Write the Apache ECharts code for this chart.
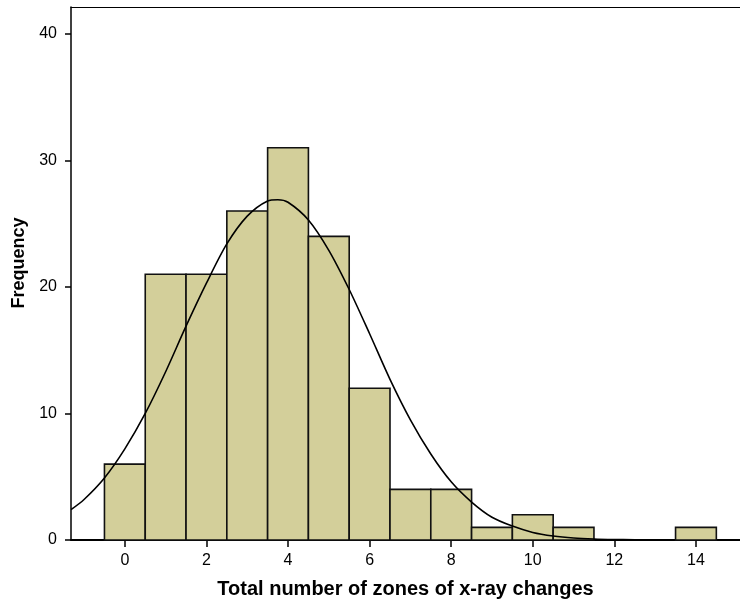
<!DOCTYPE html>
<html>
<head>
<meta charset="utf-8">
<script src="https://cdn.jsdelivr.net/npm/echarts@6/dist/echarts.min.js"></script>
<style>
  html, body { margin: 0; padding: 0; background: #fff; }
</style>
</head>
<body>
<!-- histogram with normal curve -->
<div id="main" style="width:740px;height:611px;"></div>
<script>
    // bins (zone counts) and their frequencies
    var bins = [0, 1, 2, 3, 4, 5, 6, 7, 8, 9, 10, 11, 12, 13, 14];
    var freq = [6, 21, 21, 26, 31, 24, 12, 4, 4, 1, 2, 1, 0, 0, 1];

    // normal curve
    var curveX = [-1.32, -1, -0.5, 0, 0.5, 1, 1.5, 2, 2.5, 3, 3.5, 3.75, 4, 4.5, 5, 5.5, 6, 6.5, 7, 7.5, 8, 8.5, 9, 9.5, 10, 10.5, 11, 11.5, 12, 12.5];
    var curveY = [2.4, 3.2, 4.9, 7.2, 10.0, 13.3, 16.9, 20.3, 23.4, 25.6, 26.8, 26.9, 26.7, 25.3, 22.9, 19.8, 16.3, 12.7, 9.5, 6.8, 4.6, 3.0, 1.8, 1.1, 0.6, 0.32, 0.16, 0.08, 0.04, 0.02];

    var xTicks = [0, 2, 4, 6, 8, 10, 12, 14];
    var yTicks = [0, 10, 20, 30, 40];

    var barData = [];
    for (var i = 0; i < bins.length; i++) {
        barData.push([bins[i], freq[i]]);
    }
    var lineData = [];
    for (var j = 0; j < curveX.length; j++) {
        lineData.push([curveX[j], curveY[j]]);
    }

    var font = '"Liberation Sans", Arial, sans-serif';
    var xMin = -1.32, xMax = 15.08;
    var myChart = echarts.init(document.getElementById('main'));

    myChart.setOption({
        animation: false,
        grid: {
            left: 71,
            top: 7,
            right: 0,
            bottom: 71
        },
        xAxis: [
            {
                type: 'value',
                min: xMin,
                max: xMax,
                name: 'Total number of zones of x-ray changes',
                nameLocation: 'middle',
                nameGap: 39,
                nameTextStyle: {
                    fontFamily: font,
                    fontWeight: 'bold',
                    fontSize: 20,
                    color: '#000'
                },
                axisLine: { show: true, onZero: false, lineStyle: { color: '#000', width: 2 } },
                axisTick: { show: true, length: 7, customValues: xTicks, lineStyle: { color: '#000', width: 1.5 } },
                axisLabel: { customValues: xTicks, margin: 13, fontFamily: font, fontSize: 16, color: '#000' },
                splitLine: { show: false }
            },
            {
                // top frame line only
                type: 'value',
                position: 'top',
                min: xMin,
                max: xMax,
                axisLine: { show: true, onZero: false, lineStyle: { color: '#000', width: 1.2 } },
                axisTick: { show: false },
                axisLabel: { show: false },
                splitLine: { show: false }
            }
        ],
        yAxis: {
            type: 'value',
            min: 0,
            max: 42.13,
            axisLine: { show: true, onZero: false, lineStyle: { color: '#000', width: 1.5 } },
            axisTick: { show: true, length: 6, customValues: yTicks, lineStyle: { color: '#000', width: 1.5 } },
            axisLabel: { customValues: yTicks, margin: 14, fontFamily: font, fontSize: 16, color: '#000' },
            splitLine: { show: false }
        },
        graphic: [
            {
                type: 'text',
                x: 19,
                y: 263,
                rotation: Math.PI / 2,
                style: {
                    text: 'Frequency',
                    fontFamily: font,
                    fontWeight: 'bold',
                    fontSize: 18,
                    fill: '#000',
                    align: 'center',
                    verticalAlign: 'middle'
                }
            }
        ],
        series: [
            {
                type: 'custom',
                data: barData,
                z: 2,
                renderItem: function (params, api) {
                    var x = api.value(0);
                    var y = api.value(1);
                    if (!y) {
                        return null;
                    }
                    var p0 = api.coord([x - 0.5, y]);
                    var p1 = api.coord([x + 0.5, 0]);
                    return {
                        type: 'rect',
                        shape: { x: p0[0], y: p0[1], width: p1[0] - p0[0], height: p1[1] - p0[1] },
                        style: { fill: '#d3cf9a', stroke: '#111', lineWidth: 1.6 }
                    };
                }
            },
            {
                type: 'line',
                data: lineData,
                smooth: 0.3,
                showSymbol: false,
                z: 3,
                lineStyle: { color: '#000', width: 1.6 }
            }
        ]
    });
</script>
</body>
</html>
